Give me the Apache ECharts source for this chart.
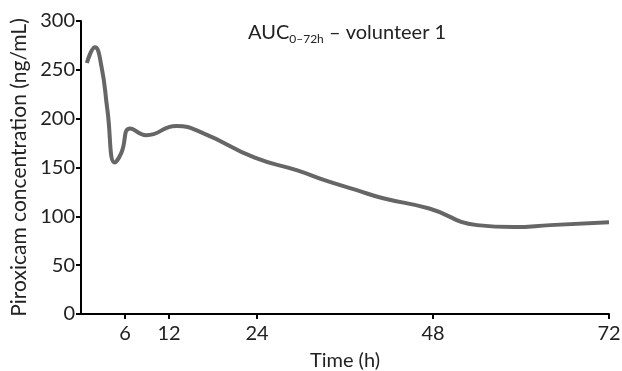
<!DOCTYPE html>
<html>
<head>
<meta charset="utf-8">
<script src="https://cdn.jsdelivr.net/npm/echarts@6/dist/echarts.min.js"></script>
<style>
  html, body { margin: 0; padding: 0; background: #fff; }
  #chart { width: 622px; height: 371px; }
</style>
</head>
<body>
<div id="chart"></div>
<script>
// hours after dose
var timeH = [0.8, 1.9, 2.8, 3.6, 4.6, 5.5, 6.7, 8.9, 13.0, 16.7, 23.7, 29.5, 33.2, 37.5, 41.2, 47.5, 54, 59, 64, 72];
// ng/mL
var conc = [257, 273, 253, 209, 155, 165, 190, 183, 192.5, 185, 160, 147, 137, 127, 118.5, 108, 91, 89, 91, 94];
var xTicks = [6, 12, 24, 48, 72];
var yTicks = [0, 50, 100, 150, 200, 250, 300];

var font = 'Lato, "DejaVu Sans", sans-serif';

var points = [];
for (var i = 0; i < timeH.length; i++) {
    points.push([timeH[i], conc[i]]);
}

var chart = echarts.init(document.getElementById('chart'));
chart.setOption({
    animation: false,
    title: {
        left: 243,
        top: 15,
        text: '{a|AUC}{b|0–72h}{a| – volunteer 1}',
        textStyle: {
            rich: {
                a: { fontFamily: font, fontSize: 20, fontWeight: 'normal', color: '#222' },
                b: { fontFamily: font, fontSize: 12, fontWeight: 'normal', color: '#222', padding: [13, 0, 0, 0] }
            }
        }
    },
    grid: { left: 81, right: 13, top: 21, bottom: 57, outerBoundsMode: 'none' },
    xAxis: {
        type: 'value',
        min: 0,
        max: 72,
        name: 'Time (h)',
        nameLocation: 'middle',
        nameGap: 37,
        nameTextStyle: { fontFamily: font, fontSize: 20, color: '#222' },
        splitLine: { show: false },
        axisLine: { lineStyle: { color: '#000', width: 2 } },
        axisTick: { customValues: xTicks, length: 5, lineStyle: { color: '#000', width: 2 } },
        axisLabel: { customValues: xTicks, margin: 10, fontFamily: font, fontSize: 20, color: '#222' }
    },
    yAxis: {
        type: 'value',
        min: 0,
        max: 300,
        interval: 50,
        name: 'Piroxicam concentration (ng/mL)',
        nameLocation: 'middle',
        nameGap: 50,
        nameTextStyle: { fontFamily: font, fontSize: 21, color: '#222' },
        splitLine: { show: false },
        axisLine: { show: true, lineStyle: { color: '#000', width: 2 } },
        axisTick: { show: true, length: 5, lineStyle: { color: '#000', width: 2 } },
        axisLabel: { margin: 6, fontFamily: font, fontSize: 20, color: '#222',
            formatter: function (v) { return yTicks.indexOf(v) >= 0 ? String(v) : ''; } }
    },
    series: [{
        type: 'line',
        data: points,
        smooth: 0.5,
        showSymbol: false,
        lineStyle: { color: '#666', width: 4 }
    }]
});
</script>
</body>
</html>
